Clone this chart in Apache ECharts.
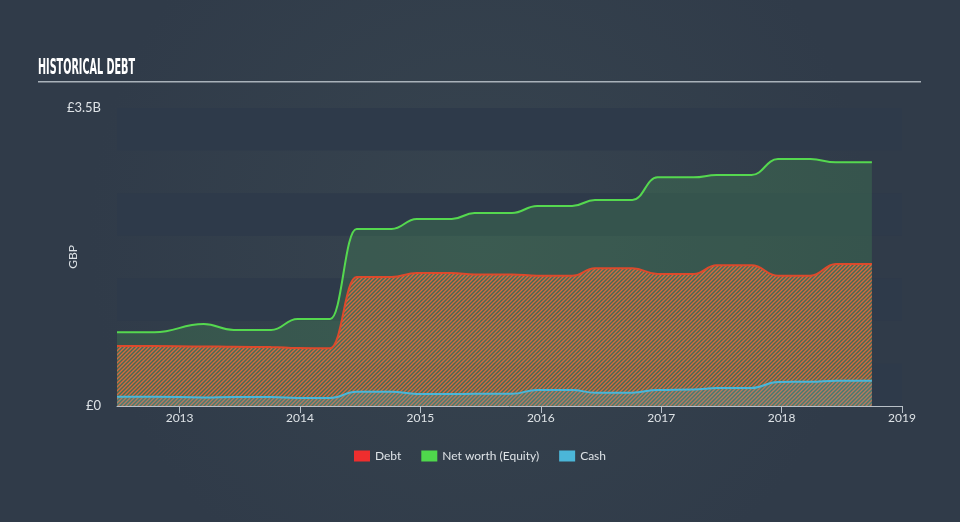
<!DOCTYPE html>
<html>
<head>
<meta charset="utf-8">
<style>
html,body{margin:0;padding:0;background:#333f4f;}
#chart{width:960px;height:522px;}
</style>
<script src="https://cdn.jsdelivr.net/npm/echarts@6/dist/echarts.min.js"></script>
</head>
<body>
<div id="chart"></div>
<script>
// Time points (decimal years)
const dates = [2012.48, 2012.79, 2013.2, 2013.45, 2013.76, 2013.98, 2014.25, 2014.47, 2014.76, 2014.97, 2015.26, 2015.45, 2015.76, 2015.97, 2016.26, 2016.45, 2016.76, 2016.97, 2017.27, 2017.46, 2017.75, 2017.97, 2018.24, 2018.45, 2018.75];
// Values in billions GBP
const netWorth = [0.866, 0.866, 0.963, 0.893, 0.893, 1.022, 1.022, 2.079, 2.079, 2.196, 2.196, 2.267, 2.267, 2.349, 2.349, 2.42, 2.42, 2.686, 2.686, 2.713, 2.713, 2.90, 2.90, 2.862, 2.862];
const debt = [0.705, 0.705, 0.70, 0.695, 0.692, 0.68, 0.678, 1.515, 1.515, 1.562, 1.562, 1.545, 1.545, 1.53, 1.53, 1.617, 1.617, 1.55, 1.55, 1.653, 1.653, 1.53, 1.53, 1.668, 1.668];
const cash = [0.109, 0.109, 0.10, 0.105, 0.105, 0.094, 0.094, 0.168, 0.168, 0.141, 0.141, 0.143, 0.143, 0.188, 0.188, 0.156, 0.156, 0.188, 0.195, 0.211, 0.211, 0.282, 0.285, 0.297, 0.297];
const xTicks = [2013, 2014, 2015, 2016, 2017, 2018, 2019];
const seriesNames = ['Debt', 'Net worth (Equity)', 'Cash'];
const titleText = 'HISTORICAL DEBT';

function pairs(vals) { return dates.map((d, i) => [d, vals[i]]); }

function makeHatch() {
  const c = document.createElement('canvas');
  c.width = 4; c.height = 4;
  const ctx = c.getContext('2d');
  ctx.fillStyle = 'rgba(95,160,105,0.32)';
  ctx.fillRect(0, 0, 4, 4);
  ctx.strokeStyle = 'rgba(238,105,58,0.85)';
  ctx.lineWidth = 1.4;
  ctx.beginPath();
  ctx.moveTo(-1, 5); ctx.lineTo(5, -1);
  ctx.moveTo(-3, 3); ctx.lineTo(3, -3);
  ctx.moveTo(1, 7); ctx.lineTo(7, 1);
  ctx.stroke();
  return c;
}

const titleFont = 'bold 21px "DejaVu Sans Condensed", "Liberation Sans", sans-serif';
function titleScale() {
  const c = document.createElement('canvas').getContext('2d');
  c.font = titleFont;
  const w = c.measureText(titleText).width;
  return w > 0 ? 97 / w : 1;
}

const chart = echarts.init(document.getElementById('chart'), null, {renderer: 'canvas'});
const option = {
  backgroundColor: {
    type: 'radial', x: 0.5, y: 0.45, r: 0.75,
    colorStops: [{offset: 0, color: '#37444f'}, {offset: 1, color: '#303b49'}]
  },
  animation: false,
  graphic: [
    {
      type: 'text', x: 38, y: 58, scaleX: titleScale(), scaleY: 1,
      style: {text: titleText, font: titleFont, fill: '#ffffff', textVerticalAlign: 'top'},
      silent: true
    },
    {
      type: 'rect', shape: {x: 38, y: 81, width: 883, height: 1.5},
      style: {fill: '#a9b2ba'}, silent: true
    }
  ],
  legend: {
    data: seriesNames,
    top: 445, left: 'center',
    itemWidth: 16, itemHeight: 11, itemGap: 20,
    icon: 'rect',
    textStyle: {color: '#dde2e6', fontSize: 12, fontFamily: 'Lato, "Noto Sans", sans-serif'}
  },
  grid: {left: 117, right: 58, top: 108, bottom: 116},
  xAxis: {
    type: 'value', min: 2012.48, max: 2019,
    axisLine: {show: true, lineStyle: {color: '#b8c0c8', width: 1}},
    axisTick: {show: true, customValues: xTicks, length: 7, lineStyle: {color: '#b8c0c8'}},
    axisLabel: {customValues: xTicks, color: '#dde2e6', fontSize: 12, margin: 6, fontFamily: 'Lato, "Noto Sans", sans-serif', formatter: v => String(Math.round(v))},
    splitLine: {show: false}
  },
  yAxis: {
    type: 'value', min: 0, max: 3.5, interval: 0.5,
    name: 'GBP', nameLocation: 'middle', nameGap: 38, nameRotate: 90, nameMoveOverlap: false,
    nameTextStyle: {color: '#dde2e6', fontSize: 12, fontFamily: 'Lato, "Noto Sans", sans-serif'},
    axisLine: {show: false}, axisTick: {show: false},
    axisLabel: {
      color: '#dde2e6', fontSize: 13, margin: 16, fontFamily: 'Lato, "Noto Sans", sans-serif',
      formatter: v => v === 0 ? '£0' : (Math.abs(v - 3.5) < 1e-9 ? '£3.5B' : '')
    },
    splitLine: {show: false},
    splitArea: {show: true, areaStyle: {color: ['#2e3a4a', 'rgba(0,0,0,0)']}}
  },
  series: [
    {
      name: 'Net worth (Equity)', type: 'line', data: pairs(netWorth),
      smooth: 0.45, smoothMonotone: 'x', showSymbol: false, symbol: 'none',
      lineStyle: {color: '#55d84f', width: 2},
      itemStyle: {color: '#4fd84c'},
      areaStyle: {color: 'rgba(75,160,88,0.37)', origin: 'start'},
      z: 2
    },
    {
      name: 'Debt', type: 'line', data: pairs(debt),
      smooth: 0.45, smoothMonotone: 'x', showSymbol: false, symbol: 'none',
      lineStyle: {color: '#dc4a2c', width: 2},
      itemStyle: {color: '#ee2e2e'},
      areaStyle: {color: {image: makeHatch(), repeat: 'repeat'}, origin: 'start', opacity: 1},
      z: 3
    },
    {
      name: 'Cash', type: 'line', data: pairs(cash),
      smooth: 0.45, smoothMonotone: 'x', showSymbol: false, symbol: 'none',
      lineStyle: {color: '#4bb6d8', width: 2},
      itemStyle: {color: '#4bb6d8'},
      areaStyle: {color: 'rgba(75,182,216,0.3)', origin: 'start'},
      z: 4
    }
  ]
};
chart.setOption(option);
</script>
</body>
</html>
